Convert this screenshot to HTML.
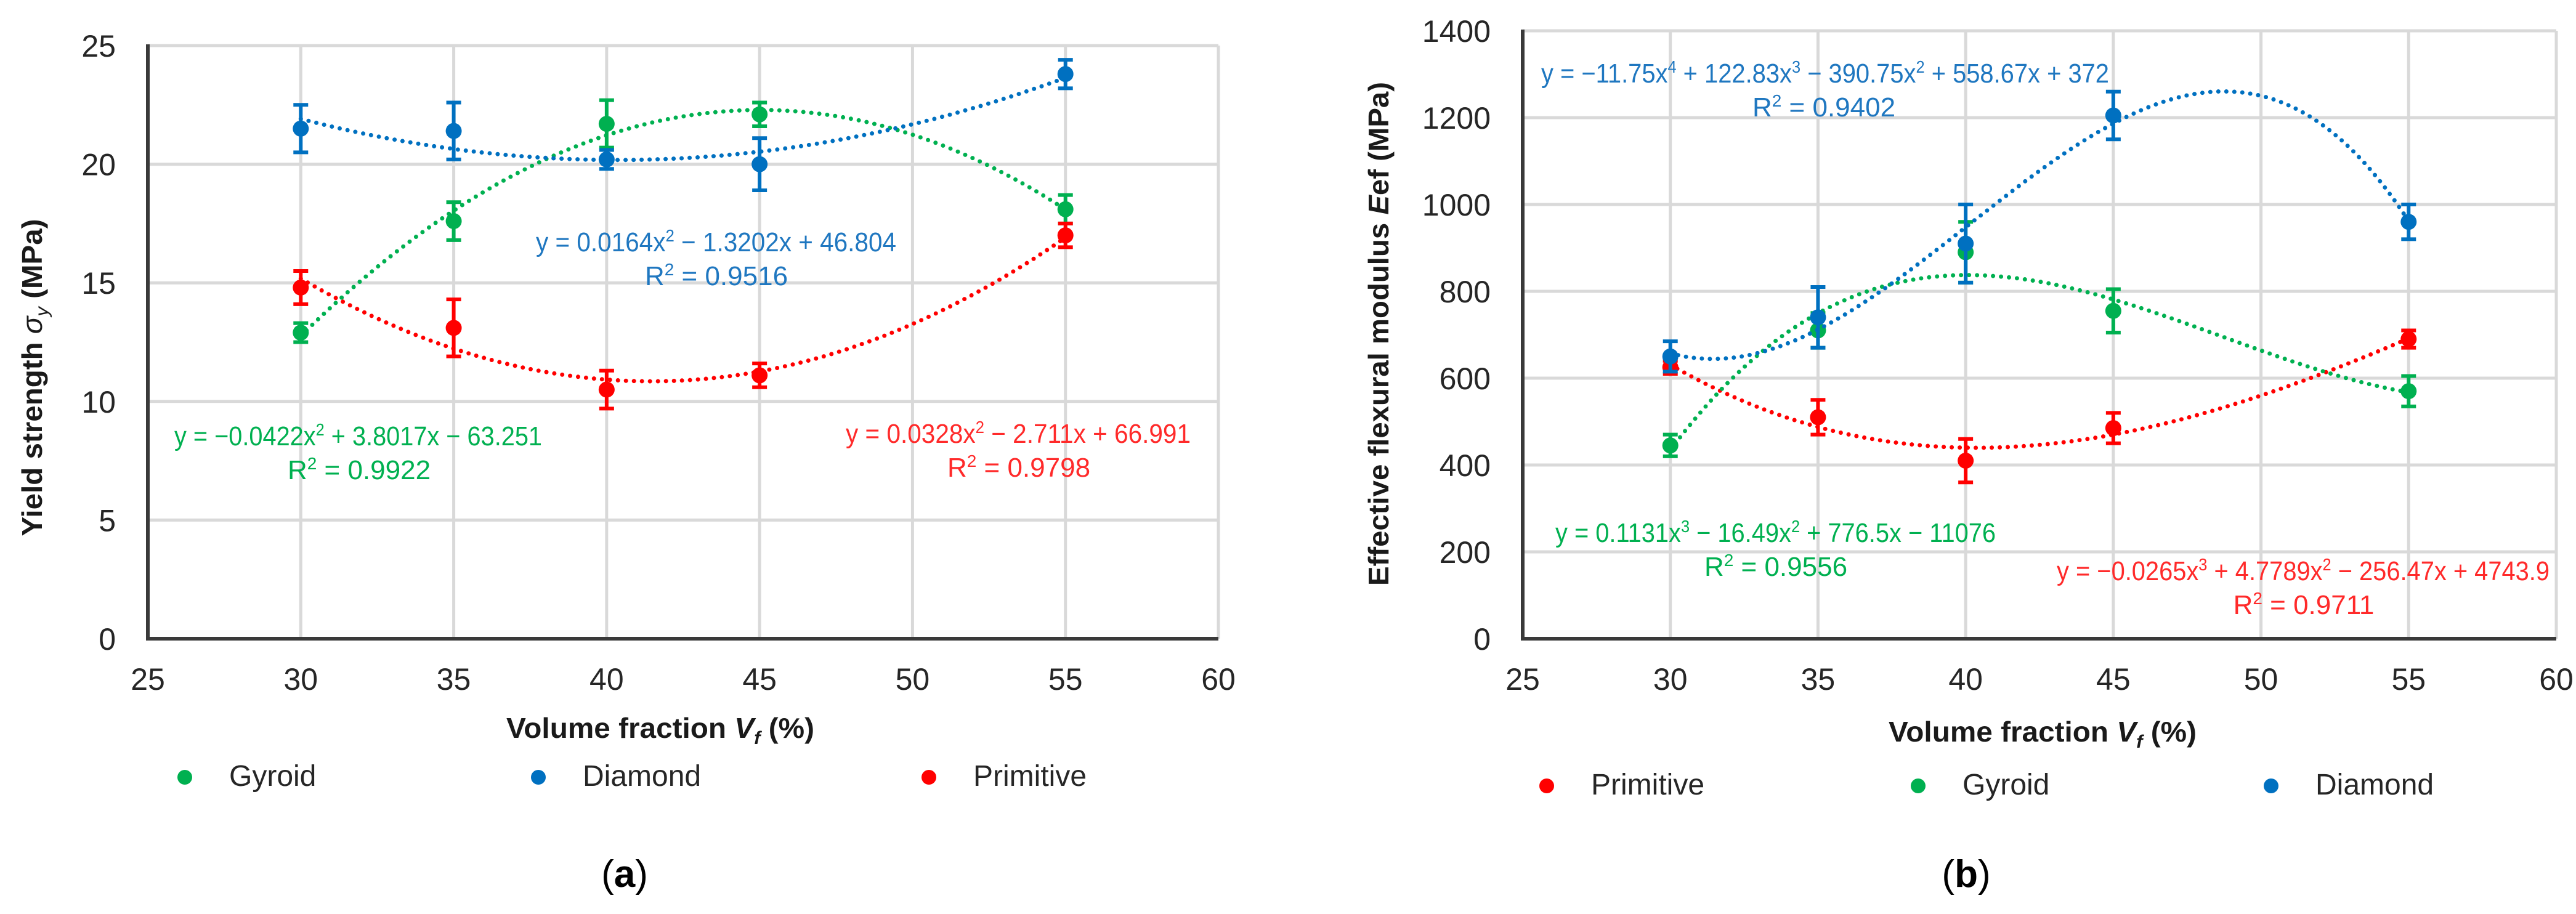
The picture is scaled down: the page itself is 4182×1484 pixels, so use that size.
<!DOCTYPE html>
<html><head><meta charset="utf-8"><title>Yield strength and flexural modulus vs volume fraction</title>
<style>
html,body{margin:0;padding:0;background:#fff;}
svg{display:block;}
text{font-family:"Liberation Sans",sans-serif;}
</style></head>
<body>
<svg id="fig" width="4182" height="1484" viewBox="0 0 4182 1484" xmlns="http://www.w3.org/2000/svg"></svg>
<script>
// ---------- Data: panel (a) yield strength ----------
const xCatsA = [30, 35, 40, 45, 55];
const gyroidA = [12.9, 17.6, 21.7, 22.1, 18.1];
const gyroidErrA = [0.4, 0.8, 1.0, 0.5, 0.6];
const diamondA = [21.5, 21.4, 20.2, 20.0, 23.8];
const diamondErrA = [1.0, 1.2, 0.4, 1.1, 0.6];
const primitiveA = [14.8, 13.1, 10.5, 11.1, 17.0];
const primitiveErrA = [0.7, 1.2, 0.8, 0.5, 0.5];
const xTicksA = [25, 30, 35, 40, 45, 50, 55, 60];
const yTicksA = [0, 5, 10, 15, 20, 25];

// ---------- Data: panel (b) flexural modulus ----------
const xCatsB = [30, 35, 40, 45, 55];
const primitiveB = [625, 510, 410, 485, 690];
const primitiveErrB = [15, 40, 50, 35, 20];
const gyroidB = [445, 710, 890, 755, 570];
const gyroidErrB = [25, 40, 70, 50, 35];
const diamondB = [650, 740, 910, 1205, 960];
const diamondErrB = [35, 70, 90, 55, 40];
const xTicksB = [25, 30, 35, 40, 45, 50, 55, 60];
const yTicksB = [0, 200, 400, 600, 800, 1000, 1200, 1400];

const NS = "http://www.w3.org/2000/svg";
const svg = document.getElementById('fig');
const GREEN = "#00b050", BLUE = "#0070c0", RED = "#ff0000";

function mk(tag, attrs, parent) {
  const e = document.createElementNS(NS, tag);
  for (const k in attrs) e.setAttribute(k, attrs[k]);
  (parent || svg).appendChild(e);
  return e;
}

function polyfit(xs, ys, deg) {
  const n = deg + 1;
  const A = [], b = [];
  for (let i = 0; i < n; i++) { A.push(new Array(n).fill(0)); b.push(0); }
  const x0 = 40;
  for (let k = 0; k < xs.length; k++) {
    const t = (xs[k] - x0) / 10;
    for (let i = 0; i < n; i++) {
      for (let j = 0; j < n; j++) A[i][j] += Math.pow(t, i + j);
      b[i] += ys[k] * Math.pow(t, i);
    }
  }
  for (let i = 0; i < n; i++) {
    let p = i;
    for (let r = i + 1; r < n; r++) if (Math.abs(A[r][i]) > Math.abs(A[p][i])) p = r;
    [A[i], A[p]] = [A[p], A[i]]; [b[i], b[p]] = [b[p], b[i]];
    for (let r = i + 1; r < n; r++) {
      const f = A[r][i] / A[i][i];
      for (let c = i; c < n; c++) A[r][c] -= f * A[i][c];
      b[r] -= f * b[i];
    }
  }
  const c = new Array(n).fill(0);
  for (let i = n - 1; i >= 0; i--) {
    let s = b[i];
    for (let j = i + 1; j < n; j++) s -= A[i][j] * c[j];
    c[i] = s / A[i][i];
  }
  return x => { const t = (x - x0) / 10; let v = 0; for (let i = 0; i < n; i++) v += c[i] * Math.pow(t, i); return v; };
}

function drawPanel(cfg) {
  const g = mk('g', {});
  
  
  const sx = v => cfg.x0 + (v - cfg.xMin) / (cfg.xMax - cfg.xMin) * (cfg.x1 - cfg.x0);
  const sy = v => cfg.y0 - (v - cfg.yMin) / (cfg.yMax - cfg.yMin) * (cfg.y0 - cfg.y1);

  const grid = mk('g', {}, g);
  
  
  cfg.yTicks.forEach(t => { if (t !== cfg.yMin) mk('line', {x1: cfg.x0, x2: cfg.x1, y1: sy(t), y2: sy(t), stroke: '#d9d9d9', 'stroke-width': 5}, grid); });
  cfg.xTicks.forEach(t => { if (t !== cfg.xMin) mk('line', {x1: sx(t), x2: sx(t), y1: cfg.y0, y2: cfg.y1, stroke: '#d9d9d9', 'stroke-width': 5}, grid); });

  const ya = mk('line', {x1: cfg.x0, x2: cfg.x0, y1: cfg.y0 + 3, y2: cfg.y1 - 2, stroke: '#3a3a3a', 'stroke-width': 6}, g);
  
  
  const xa = mk('line', {x1: cfg.x0 - 3, x2: cfg.x1, y1: cfg.y0, y2: cfg.y0, stroke: '#3a3a3a', 'stroke-width': 6}, g);
  
  

  cfg.yTicks.forEach(t => {
    const e = mk('text', {x: cfg.yLabelX, y: sy(t) + 18, 'text-anchor': 'end', 'font-size': 50, fill: '#262626'}, g);
    
    
    e.textContent = t;
  });
  cfg.xTicks.forEach(t => {
    const e = mk('text', {x: sx(t), y: cfg.xLabelY, 'text-anchor': 'middle', 'font-size': 50, fill: '#262626'}, g);
    
    
    e.textContent = t;
  });

  cfg.series.forEach(s => {
    const sg = mk('g', {}, g);
    
    
    const f = polyfit(cfg.cats, s.vals, s.deg);
    let d = '';
    for (let x = cfg.cats[0]; x <= cfg.cats[cfg.cats.length - 1] + 1e-9; x += 0.25) {
      d += (d ? 'L' : 'M') + sx(x).toFixed(1) + ',' + sy(f(x)).toFixed(1);
    }
    const tl = mk('path', {d: d, fill: 'none', stroke: s.lineColor, 'stroke-width': 7, 'stroke-dasharray': '0 13', 'stroke-linecap': 'round'}, sg);
    
    
    cfg.cats.forEach((c, i) => {
      const x = sx(c), yv = sy(s.vals[i]), yt = sy(s.vals[i] + s.err[i]), yb = sy(s.vals[i] - s.err[i]);
      const eb = mk('path', {d: `M${x},${yt}L${x},${yb}M${x - 12},${yt}L${x + 12},${yt}M${x - 12},${yb}L${x + 12},${yb}`, stroke: s.color, 'stroke-width': 6, fill: 'none'}, sg);
      
      
      const pt = mk('circle', {cx: x, cy: yv, r: 13, fill: s.color}, sg);
      
      
    });
  });

  const yt = mk('text', {transform: `translate(${cfg.yTitleX},${cfg.yTitleY}) rotate(-90)`, 'text-anchor': 'middle', 'font-size': 46, 'font-weight': 'bold', fill: '#1a1a1a', textLength: cfg.yTitleLen, lengthAdjust: 'spacingAndGlyphs'}, g);
  
  
  yt.innerHTML = cfg.yTitle;
  const xt = mk('text', {x: cfg.xTitleX, y: cfg.xTitleY, 'text-anchor': 'middle', 'font-size': 46, 'font-weight': 'bold', fill: '#1a1a1a', textLength: 500, lengthAdjust: 'spacingAndGlyphs'}, g);
  
  
  xt.innerHTML = 'Volume fraction <tspan font-style="italic">V</tspan><tspan font-style="italic" font-size="30" dy="10">f</tspan><tspan dy="-10"> (%)</tspan>';

  cfg.eqs.forEach(q => {
    const e1 = mk('text', {x: q.x, y: q.y, 'font-size': 44, fill: q.color, textLength: q.w, lengthAdjust: 'spacingAndGlyphs'}, g);
    
    
    e1.innerHTML = q.eq;
    const e2 = mk('text', {x: q.rx, y: q.y + 55, 'text-anchor': 'middle', 'font-size': 44, fill: q.color}, g);
    
    
    e2.innerHTML = 'R<tspan font-size="28" dy="-16">2</tspan><tspan dy="16"> = ' + q.r2 + '</tspan>';
  });

  const lg = mk('g', {}, g);
  
  
  cfg.legend.forEach(l => {
    const eg = mk('g', {}, lg);
    
    
    mk('circle', {cx: l.x, cy: cfg.legendY - 14, r: 12, fill: l.color}, eg);
    const t = mk('text', {x: l.x + 72, y: cfg.legendY, 'font-size': 48, fill: '#262626'}, eg);
    t.textContent = l.label;
  });

  const cap = mk('text', {x: cfg.capX, y: 1440, 'text-anchor': 'middle', 'font-size': 62, 'font-family': '"Liberation Serif", serif', fill: '#000'}, g);
  
  
  cap.innerHTML = '(<tspan font-weight="bold">' + cfg.cap + '</tspan>)';
}

const sup = s => '<tspan font-size="28" dy="-16">' + s + '</tspan><tspan dy="16">';

drawPanel({
  name: 'chart-a-yield-strength',
  x0: 240, x1: 1978, y0: 1037, y1: 74, xMin: 25, xMax: 60, yMin: 0, yMax: 25,
  xTicks: xTicksA, yTicks: yTicksA, cats: xCatsA,
  yLabelX: 188, xLabelY: 1120,
  series: [
    {label: 'Gyroid', vals: gyroidA, err: gyroidErrA, color: GREEN, lineColor: GREEN, deg: 2},
    {label: 'Diamond', vals: diamondA, err: diamondErrA, color: BLUE, lineColor: BLUE, deg: 2},
    {label: 'Primitive', vals: primitiveA, err: primitiveErrA, color: RED, lineColor: RED, deg: 2}
  ],
  yTitle: 'Yield strength <tspan font-style="italic" font-weight="normal">σ</tspan><tspan font-style="italic" font-weight="normal" font-size="30" dy="10">y</tspan><tspan dy="-10"> (MPa)</tspan>',
  yTitleX: 68, yTitleY: 613, yTitleLen: 515,
  xTitleX: 1072, xTitleY: 1198,
  eqs: [
    {x: 870, y: 408, w: 585, rx: 1163, color: '#1f77c0', r2: '0.9516', eq: 'y = 0.0164x' + sup('2') + ' − 1.3202x + 46.804</tspan>'},
    {x: 283, y: 723, w: 597, rx: 583, color: '#00b050', r2: '0.9922', eq: 'y = −0.0422x' + sup('2') + ' + 3.8017x − 63.251</tspan>'},
    {x: 1373, y: 719, w: 560, rx: 1654, color: '#ff2a2a', r2: '0.9798', eq: 'y = 0.0328x' + sup('2') + ' − 2.711x + 66.991</tspan>'}
  ],
  legendY: 1276,
  legend: [{label: 'Gyroid', color: GREEN, x: 300}, {label: 'Diamond', color: BLUE, x: 874}, {label: 'Primitive', color: RED, x: 1508}],
  capX: 1014, cap: 'a'
});

drawPanel({
  name: 'chart-b-flexural-modulus',
  x0: 2472, x1: 4150, y0: 1037, y1: 50, xMin: 25, xMax: 60, yMin: 0, yMax: 1400,
  xTicks: xTicksB, yTicks: yTicksB, cats: xCatsB,
  yLabelX: 2420, xLabelY: 1120,
  series: [
    {label: 'Primitive', vals: primitiveB, err: primitiveErrB, color: RED, lineColor: RED, deg: 3},
    {label: 'Gyroid', vals: gyroidB, err: gyroidErrB, color: GREEN, lineColor: GREEN, deg: 3},
    {label: 'Diamond', vals: diamondB, err: diamondErrB, color: BLUE, lineColor: BLUE, deg: 3}
  ],
  yTitle: 'Effective flexural modulus <tspan font-style="italic">E</tspan>ef  (MPa)',
  yTitleX: 2254, yTitleY: 542, yTitleLen: 818,
  xTitleX: 3316, xTitleY: 1204,
  eqs: [
    {x: 2502, y: 134, w: 922, rx: 2961, color: '#1f77c0', r2: '0.9402', eq: 'y = −11.75x' + sup('4') + ' + 122.83x</tspan>' + sup('3') + ' − 390.75x</tspan>' + sup('2') + ' + 558.67x + 372</tspan>'},
    {x: 2525, y: 880, w: 715, rx: 2883, color: '#00b050', r2: '0.9556', eq: 'y = 0.1131x' + sup('3') + ' − 16.49x</tspan>' + sup('2') + ' + 776.5x − 11076</tspan>'},
    {x: 3339, y: 942, w: 800, rx: 3740, color: '#ff2a2a', r2: '0.9711', eq: 'y = −0.0265x' + sup('3') + ' + 4.7789x</tspan>' + sup('2') + ' − 256.47x + 4743.9</tspan>'}
  ],
  legendY: 1290,
  legend: [{label: 'Primitive', color: RED, x: 2511}, {label: 'Gyroid', color: GREEN, x: 3114}, {label: 'Diamond', color: BLUE, x: 3687}],
  capX: 3192, cap: 'b'
});
</script>
</body></html>
